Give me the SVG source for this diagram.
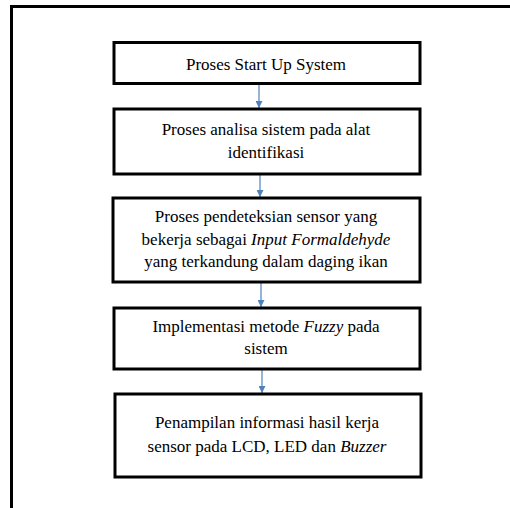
<svg xmlns="http://www.w3.org/2000/svg" width="510" height="508" viewBox="0 0 510 508">
<defs>
<style>
.box{fill:#fff;stroke:#000;stroke-width:3}
.t{font-family:"Times New Roman","Liberation Serif",Tinos,"DejaVu Serif",serif;font-size:17px;fill:#000;text-anchor:middle}
.i{font-style:italic}
.c{stroke:#4F81BD;stroke-width:1.2;fill:none}
</style>
<marker id="ah" viewBox="0 0 10 10" refX="10" refY="5" markerWidth="7" markerHeight="7" markerUnits="userSpaceOnUse" orient="auto">
<path d="M0,0 L10,5 L0,10 z" fill="#4F81BD"/>
</marker>
</defs>
<rect width="510" height="508" fill="#fff"/>
<path d="M11.5,508 V6.5 H510" fill="none" stroke="#000" stroke-width="3"/>
<g id="connectors">
<line class="c" x1="259" y1="84" x2="259" y2="108" marker-end="url(#ah)"/>
<line class="c" x1="260" y1="174" x2="260" y2="197" marker-end="url(#ah)"/>
<line class="c" x1="261" y1="283" x2="261" y2="307" marker-end="url(#ah)"/>
<line class="c" x1="262" y1="369" x2="262" y2="393" marker-end="url(#ah)"/>
</g>
<g id="n1">
<rect class="box" x="114" y="42.5" width="306" height="41"/>
<text class="t" x="266" y="70">Proses Start Up System</text>
</g>
<g id="n2">
<rect class="box" x="114" y="109" width="306" height="65"/>
<text class="t" x="266" y="135">Proses analisa sistem pada alat</text>
<text class="t" x="266" y="158">identifikasi</text>
</g>
<g id="n3">
<rect class="box" x="113" y="198" width="307" height="84"/>
<text class="t" x="266" y="222">Proses pendeteksian sensor yang</text>
<text class="t" x="266" y="245">bekerja sebagai <tspan class="i">Input Formaldehyde</tspan></text>
<text class="t" x="266" y="267">yang terkandung dalam daging ikan</text>
</g>
<g id="n4">
<rect class="box" x="114" y="308" width="306" height="61"/>
<text class="t" x="266" y="332">Implementasi metode <tspan class="i">Fuzzy</tspan> pada</text>
<text class="t" x="266" y="354">sistem</text>
</g>
<g id="n5">
<rect class="box" x="115" y="394" width="306" height="83"/>
<text class="t" x="267" y="428">Penampilan informasi hasil kerja</text>
<text class="t" x="267" y="452">sensor pada LCD, LED dan <tspan class="i">Buzzer</tspan></text>
</g>
</svg>
